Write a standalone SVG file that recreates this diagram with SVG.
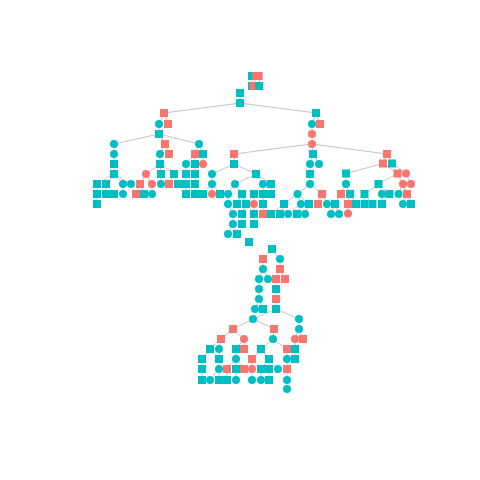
<svg xmlns="http://www.w3.org/2000/svg" xmlns:xlink="http://www.w3.org/1999/xlink" width="480" height="480" viewBox="0 0 480 480">
<style>
.t{fill:#00BFC4}
.s{fill:#F8766D}
#edges line{stroke:#C4C4C4;stroke-width:1}
</style>
<defs>
<rect id="sq" x="-4" y="-4" width="8" height="8"/>
<circle id="ci" r="4"/>
</defs>
<rect width="480" height="480" fill="#FFFFFF"/>
<g id="edges">
<line x1="252" y1="76" x2="252" y2="86"/><line x1="256" y1="76" x2="254" y2="86"/><line x1="259" y1="76" x2="260" y2="86"/>
<line x1="240" y1="93" x2="240" y2="103"/>
<line x1="240" y1="103" x2="164" y2="113"/><line x1="240" y1="103" x2="316" y2="113"/>
<line x1="164" y1="113" x2="159" y2="124"/><line x1="164" y1="113" x2="168" y2="124"/>
<line x1="159" y1="124" x2="159" y2="134"/>
<line x1="159" y1="134" x2="114" y2="144"/><line x1="159" y1="134" x2="165" y2="144"/><line x1="159" y1="134" x2="199" y2="144"/>
<line x1="114" y1="144" x2="114" y2="174"/>
<line x1="114" y1="174" x2="97" y2="184"/><line x1="114" y1="174" x2="106" y2="184"/><line x1="114" y1="174" x2="123" y2="184"/><line x1="114" y1="174" x2="131" y2="184"/>
<line x1="97" y1="184" x2="97" y2="204"/>
<line x1="106" y1="184" x2="106" y2="194"/><line x1="106" y1="184" x2="114" y2="194"/>
<line x1="123" y1="184" x2="123" y2="194"/>
<line x1="165" y1="144" x2="160" y2="154"/><line x1="165" y1="144" x2="169" y2="154"/>
<line x1="160" y1="154" x2="160" y2="164"/>
<line x1="160" y1="164" x2="146" y2="174"/><line x1="160" y1="164" x2="161" y2="174"/><line x1="160" y1="164" x2="174" y2="174"/>
<line x1="146" y1="174" x2="140" y2="184"/><line x1="146" y1="174" x2="152" y2="184"/>
<line x1="140" y1="184" x2="136" y2="194"/><line x1="140" y1="184" x2="144" y2="194"/>
<line x1="152" y1="184" x2="152" y2="194"/>
<line x1="161" y1="174" x2="161" y2="184"/>
<line x1="174" y1="174" x2="169" y2="184"/><line x1="174" y1="174" x2="178" y2="184"/>
<line x1="199" y1="144" x2="195" y2="154"/><line x1="199" y1="144" x2="203" y2="154"/>
<line x1="195" y1="154" x2="186" y2="164"/><line x1="195" y1="154" x2="195" y2="164"/>
<line x1="186" y1="164" x2="186" y2="194"/><line x1="195" y1="164" x2="195" y2="194"/>
<line x1="203" y1="154" x2="203" y2="164"/>
<line x1="316" y1="113" x2="312" y2="124"/><line x1="316" y1="113" x2="320" y2="124"/>
<line x1="312" y1="124" x2="312" y2="144"/>
<line x1="312" y1="144" x2="234" y2="154"/><line x1="312" y1="144" x2="313" y2="154"/><line x1="312" y1="144" x2="387" y2="154"/>
<line x1="234" y1="154" x2="234" y2="164"/>
<line x1="234" y1="164" x2="212" y2="174"/><line x1="234" y1="164" x2="256" y2="174"/>
<line x1="212" y1="174" x2="212" y2="184"/>
<line x1="212" y1="184" x2="203" y2="194"/><line x1="212" y1="184" x2="212" y2="194"/><line x1="212" y1="184" x2="220" y2="194"/>
<line x1="256" y1="174" x2="235" y2="184"/><line x1="256" y1="174" x2="263" y2="184"/><line x1="256" y1="174" x2="271" y2="184"/>
<line x1="235" y1="184" x2="228" y2="194"/><line x1="235" y1="184" x2="242" y2="194"/>
<line x1="228" y1="194" x2="228" y2="204"/><line x1="228" y1="204" x2="233" y2="214"/><line x1="233" y1="214" x2="233" y2="224"/><line x1="233" y1="224" x2="228" y2="234"/><line x1="233" y1="224" x2="237" y2="234"/>
<line x1="242" y1="194" x2="237" y2="204"/><line x1="242" y1="194" x2="246" y2="204"/><line x1="246" y1="204" x2="242" y2="214"/><line x1="242" y1="214" x2="242" y2="224"/>
<line x1="263" y1="184" x2="254" y2="194"/><line x1="263" y1="184" x2="263" y2="194"/>
<line x1="254" y1="194" x2="254" y2="224"/><line x1="263" y1="194" x2="263" y2="214"/>
<line x1="271" y1="184" x2="271" y2="194"/>
<line x1="313" y1="154" x2="310" y2="164"/><line x1="313" y1="154" x2="319" y2="164"/>
<line x1="310" y1="164" x2="310" y2="184"/>
<line x1="310" y1="184" x2="297.5" y2="194"/><line x1="310" y1="184" x2="322" y2="194"/>
<line x1="297.5" y1="194" x2="284" y2="204"/><line x1="297.5" y1="194" x2="301" y2="204"/><line x1="297.5" y1="194" x2="309" y2="204"/>
<line x1="284" y1="204" x2="271" y2="214"/><line x1="284" y1="204" x2="280" y2="214"/>
<line x1="301" y1="204" x2="288" y2="214"/><line x1="301" y1="204" x2="297" y2="214"/>
<line x1="309" y1="204" x2="305" y2="214"/>
<line x1="322" y1="194" x2="318" y2="204"/><line x1="322" y1="194" x2="327" y2="204"/>
<line x1="387" y1="154" x2="383" y2="163.5"/><line x1="387" y1="154" x2="392" y2="163.5"/>
<line x1="383" y1="163.5" x2="346" y2="173.5"/><line x1="383" y1="163.5" x2="397.5" y2="173.5"/>
<line x1="392" y1="163.5" x2="406" y2="173.5"/>
<line x1="346" y1="173.5" x2="346" y2="184"/>
<line x1="346" y1="184" x2="341" y2="194"/><line x1="346" y1="184" x2="350" y2="194"/>
<line x1="341" y1="194" x2="335" y2="204"/><line x1="335" y1="204" x2="331" y2="214"/><line x1="335" y1="204" x2="339" y2="214"/>
<line x1="350" y1="194" x2="348" y2="204"/><line x1="350" y1="194" x2="356" y2="204"/>
<line x1="348" y1="204" x2="348" y2="213.5"/>
<line x1="397.5" y1="173.5" x2="378.5" y2="184"/><line x1="397.5" y1="173.5" x2="403" y2="184"/>
<line x1="406" y1="173.5" x2="411" y2="184"/>
<line x1="378.5" y1="184" x2="364.5" y2="194"/><line x1="378.5" y1="184" x2="382" y2="194"/><line x1="378.5" y1="184" x2="389.5" y2="194"/>
<line x1="364.5" y1="194" x2="364.5" y2="204"/><line x1="364.5" y1="194" x2="372.5" y2="204"/>
<line x1="382" y1="194" x2="382" y2="204"/>
<line x1="403" y1="184" x2="398.5" y2="194"/><line x1="403" y1="184" x2="407" y2="194"/>
<line x1="407" y1="194" x2="403" y2="204"/><line x1="407" y1="194" x2="411" y2="204"/>
<line x1="272" y1="249" x2="263" y2="259"/><line x1="272" y1="249" x2="280" y2="259"/>
<line x1="263" y1="259" x2="263" y2="269"/><line x1="263" y1="269" x2="259" y2="279"/><line x1="263" y1="269" x2="268" y2="279"/>
<line x1="259" y1="279" x2="259" y2="299"/><line x1="259" y1="299" x2="255" y2="309"/><line x1="259" y1="299" x2="263" y2="309"/>
<line x1="280" y1="259" x2="280" y2="269"/><line x1="280" y1="269" x2="276" y2="279"/><line x1="280" y1="269" x2="285" y2="279"/>
<line x1="276" y1="279" x2="276" y2="309"/>
<line x1="276" y1="309" x2="253" y2="319"/><line x1="276" y1="309" x2="299" y2="319"/>
<line x1="253" y1="319" x2="233" y2="329"/><line x1="253" y1="319" x2="274" y2="329"/>
<line x1="233" y1="329" x2="221" y2="339"/><line x1="233" y1="329" x2="244" y2="339"/>
<line x1="221" y1="339" x2="210" y2="349"/><line x1="221" y1="339" x2="219" y2="349"/>
<line x1="210" y1="349" x2="202" y2="359"/><line x1="202" y1="359" x2="202" y2="380"/>
<line x1="219" y1="349" x2="219" y2="369"/><line x1="219" y1="369" x2="210" y2="380"/><line x1="219" y1="369" x2="219" y2="380"/>
<line x1="244" y1="339" x2="236" y2="349"/><line x1="244" y1="339" x2="244" y2="349"/>
<line x1="236" y1="349" x2="236" y2="359"/>
<line x1="236" y1="359" x2="227" y2="369"/><line x1="236" y1="359" x2="236" y2="369"/><line x1="236" y1="359" x2="244" y2="369"/>
<line x1="227" y1="369" x2="227" y2="380"/><line x1="236" y1="369" x2="236" y2="380"/>
<line x1="274" y1="329" x2="273" y2="339"/>
<line x1="273" y1="339" x2="261" y2="349"/><line x1="273" y1="339" x2="287" y2="349"/>
<line x1="261" y1="349" x2="252" y2="359"/><line x1="261" y1="349" x2="269" y2="359"/>
<line x1="252" y1="359" x2="252" y2="380"/>
<line x1="269" y1="359" x2="261" y2="369"/><line x1="269" y1="359" x2="269" y2="369"/><line x1="269" y1="359" x2="278" y2="369"/>
<line x1="261" y1="369" x2="261" y2="380"/><line x1="269" y1="369" x2="269" y2="380"/>
<line x1="287" y1="349" x2="287" y2="389"/>
<line x1="299" y1="319" x2="299" y2="329"/><line x1="299" y1="329" x2="295" y2="339"/><line x1="299" y1="329" x2="303" y2="339"/>
<line x1="295" y1="339" x2="295" y2="359"/>
</g>
<g id="n1"><use href="#sq" class="t" x="252" y="76"/></g>
<g id="n2"><use href="#sq" class="s" x="256" y="76"/></g>
<g id="n3"><use href="#sq" class="s" x="258.7" y="76"/></g>
<g id="n4"><use href="#sq" class="t" x="252" y="86"/></g>
<g id="n5"><use href="#sq" class="s" x="253.7" y="86"/></g>
<g id="n6"><use href="#sq" class="t" x="259.3" y="86"/></g>
<g id="n7"><use href="#sq" class="t" x="240" y="93"/></g>
<g id="n8"><use href="#sq" class="t" x="240" y="103"/></g>
<g id="n9"><use href="#sq" class="s" x="164" y="113"/></g>
<g id="n10"><use href="#sq" class="t" x="316" y="113"/></g>
<g id="n11"><use href="#ci" class="t" x="159" y="124"/></g>
<g id="n12"><use href="#sq" class="s" x="168" y="124"/></g>
<g id="n13"><use href="#sq" class="t" x="159" y="134"/></g>
<g id="n14"><use href="#ci" class="t" x="114" y="144"/></g>
<g id="n15"><use href="#sq" class="s" x="165" y="144"/></g>
<g id="n16"><use href="#ci" class="t" x="199" y="144"/></g>
<g id="n17"><use href="#ci" class="t" x="114" y="154"/></g>
<g id="n18"><use href="#sq" class="t" x="114" y="164"/></g>
<g id="n19"><use href="#sq" class="t" x="114" y="174"/></g>
<g id="n20"><use href="#sq" class="t" x="97" y="184"/></g>
<g id="n21"><use href="#sq" class="t" x="106" y="184"/></g>
<g id="n22"><use href="#ci" class="t" x="123" y="184"/></g>
<g id="n23"><use href="#ci" class="t" x="131" y="184"/></g>
<g id="n24"><use href="#sq" class="t" x="97" y="194"/></g>
<g id="n25"><use href="#sq" class="t" x="97" y="204"/></g>
<g id="n26"><use href="#sq" class="t" x="106" y="194"/></g>
<g id="n27"><use href="#sq" class="t" x="114" y="194"/></g>
<g id="n28"><use href="#ci" class="t" x="123" y="194"/></g>
<g id="n29"><use href="#ci" class="t" x="160" y="154"/></g>
<g id="n30"><use href="#sq" class="s" x="169" y="154"/></g>
<g id="n31"><use href="#sq" class="t" x="160" y="164"/></g>
<g id="n32"><use href="#ci" class="s" x="146" y="174"/></g>
<g id="n33"><use href="#sq" class="t" x="161" y="174"/></g>
<g id="n34"><use href="#sq" class="t" x="174" y="174"/></g>
<g id="n35"><use href="#sq" class="s" x="140" y="184"/></g>
<g id="n36"><use href="#ci" class="s" x="152" y="184"/></g>
<g id="n37"><use href="#sq" class="s" x="136" y="194"/></g>
<g id="n38"><use href="#sq" class="t" x="144" y="194"/></g>
<g id="n39"><use href="#ci" class="t" x="152" y="194"/></g>
<g id="n40"><use href="#ci" class="t" x="161" y="184"/></g>
<g id="n41"><use href="#sq" class="s" x="169" y="184"/></g>
<g id="n42"><use href="#sq" class="t" x="178" y="184"/></g>
<g id="n43"><use href="#sq" class="s" x="195" y="154"/></g>
<g id="n44"><use href="#sq" class="t" x="203" y="154"/></g>
<g id="n45"><use href="#ci" class="t" x="186" y="164"/></g>
<g id="n46"><use href="#sq" class="t" x="195" y="164"/></g>
<g id="n47"><use href="#sq" class="t" x="186" y="174"/></g>
<g id="n48"><use href="#sq" class="t" x="186" y="184"/></g>
<g id="n49"><use href="#sq" class="t" x="186" y="194"/></g>
<g id="n50"><use href="#sq" class="t" x="195" y="174"/></g>
<g id="n51"><use href="#sq" class="t" x="195" y="184"/></g>
<g id="n52"><use href="#sq" class="t" x="195" y="194"/></g>
<g id="n53"><use href="#ci" class="s" x="203" y="164"/></g>
<g id="n54"><use href="#ci" class="t" x="312" y="124"/></g>
<g id="n55"><use href="#sq" class="s" x="320" y="124"/></g>
<g id="n56"><use href="#ci" class="s" x="312" y="134"/></g>
<g id="n57"><use href="#ci" class="s" x="312" y="144"/></g>
<g id="n58"><use href="#sq" class="s" x="234" y="154"/></g>
<g id="n59"><use href="#sq" class="t" x="313" y="154"/></g>
<g id="n60"><use href="#sq" class="s" x="387" y="154"/></g>
<g id="n61"><use href="#sq" class="t" x="234" y="164"/></g>
<g id="n62"><use href="#ci" class="t" x="212" y="174"/></g>
<g id="n63"><use href="#sq" class="t" x="256" y="174"/></g>
<g id="n64"><use href="#ci" class="t" x="212" y="184"/></g>
<g id="n65"><use href="#sq" class="t" x="203" y="194"/></g>
<g id="n66"><use href="#ci" class="s" x="212" y="194"/></g>
<g id="n67"><use href="#sq" class="t" x="220" y="194"/></g>
<g id="n68"><use href="#ci" class="t" x="235" y="184"/></g>
<g id="n69"><use href="#ci" class="t" x="263" y="184"/></g>
<g id="n70"><use href="#sq" class="t" x="271" y="184"/></g>
<g id="n71"><use href="#ci" class="t" x="228" y="194"/></g>
<g id="n72"><use href="#sq" class="t" x="242" y="194"/></g>
<g id="n73"><use href="#ci" class="t" x="228" y="204"/></g>
<g id="n74"><use href="#ci" class="t" x="233" y="214"/></g>
<g id="n75"><use href="#ci" class="t" x="233" y="224"/></g>
<g id="n76"><use href="#ci" class="t" x="228" y="234"/></g>
<g id="n77"><use href="#sq" class="t" x="237" y="234"/></g>
<g id="n78"><use href="#sq" class="t" x="237" y="204"/></g>
<g id="n79"><use href="#sq" class="t" x="246" y="204"/></g>
<g id="n80"><use href="#sq" class="t" x="242" y="214"/></g>
<g id="n81"><use href="#sq" class="t" x="242" y="224"/></g>
<g id="n82"><use href="#sq" class="t" x="254" y="194"/></g>
<g id="n83"><use href="#sq" class="t" x="263" y="194"/></g>
<g id="n84"><use href="#ci" class="s" x="254" y="204"/></g>
<g id="n85"><use href="#sq" class="t" x="254" y="214"/></g>
<g id="n86"><use href="#sq" class="t" x="254" y="224"/></g>
<g id="n87"><use href="#sq" class="t" x="263" y="204"/></g>
<g id="n88"><use href="#sq" class="s" x="263" y="214"/></g>
<g id="n89"><use href="#sq" class="t" x="271" y="194"/></g>
<g id="n90"><use href="#ci" class="t" x="310" y="164"/></g>
<g id="n91"><use href="#ci" class="t" x="319" y="164"/></g>
<g id="n92"><use href="#sq" class="t" x="310" y="174"/></g>
<g id="n93"><use href="#ci" class="t" x="310" y="184"/></g>
<g id="n94"><use href="#ci" class="t" x="297.5" y="194"/></g>
<g id="n95"><use href="#sq" class="s" x="322" y="194"/></g>
<g id="n96"><use href="#sq" class="t" x="284" y="204"/></g>
<g id="n97"><use href="#ci" class="t" x="301" y="204"/></g>
<g id="n98"><use href="#sq" class="t" x="309" y="204"/></g>
<g id="n99"><use href="#sq" class="t" x="271" y="214"/></g>
<g id="n100"><use href="#sq" class="t" x="280" y="214"/></g>
<g id="n101"><use href="#ci" class="t" x="288" y="214"/></g>
<g id="n102"><use href="#sq" class="t" x="297" y="214"/></g>
<g id="n103"><use href="#ci" class="t" x="305" y="214"/></g>
<g id="n104"><use href="#sq" class="s" x="318" y="204"/></g>
<g id="n105"><use href="#ci" class="t" x="327" y="204"/></g>
<g id="n106"><use href="#sq" class="s" x="383" y="163.5"/></g>
<g id="n107"><use href="#sq" class="t" x="392" y="163.5"/></g>
<g id="n108"><use href="#sq" class="t" x="346" y="173.5"/></g>
<g id="n109"><use href="#sq" class="s" x="397.5" y="173.5"/></g>
<g id="n110"><use href="#ci" class="s" x="406" y="173.5"/></g>
<g id="n111"><use href="#ci" class="t" x="346" y="184"/></g>
<g id="n112"><use href="#sq" class="s" x="341" y="194"/></g>
<g id="n113"><use href="#sq" class="t" x="350" y="194"/></g>
<g id="n114"><use href="#sq" class="t" x="335" y="204"/></g>
<g id="n115"><use href="#ci" class="t" x="331" y="214"/></g>
<g id="n116"><use href="#ci" class="t" x="339" y="214"/></g>
<g id="n117"><use href="#sq" class="s" x="348" y="204"/></g>
<g id="n118"><use href="#sq" class="t" x="356" y="204"/></g>
<g id="n119"><use href="#ci" class="s" x="348" y="213.5"/></g>
<g id="n120"><use href="#sq" class="t" x="378.5" y="184"/></g>
<g id="n121"><use href="#ci" class="s" x="403" y="184"/></g>
<g id="n122"><use href="#ci" class="s" x="411" y="184"/></g>
<g id="n123"><use href="#sq" class="t" x="364.5" y="194"/></g>
<g id="n124"><use href="#ci" class="t" x="382" y="194"/></g>
<g id="n125"><use href="#sq" class="t" x="389.5" y="194"/></g>
<g id="n126"><use href="#sq" class="t" x="364.5" y="204"/></g>
<g id="n127"><use href="#sq" class="t" x="372.5" y="204"/></g>
<g id="n128"><use href="#sq" class="t" x="382" y="204"/></g>
<g id="n129"><use href="#ci" class="t" x="398.5" y="194"/></g>
<g id="n130"><use href="#sq" class="s" x="407" y="194"/></g>
<g id="n131"><use href="#ci" class="t" x="403" y="204"/></g>
<g id="n132"><use href="#sq" class="t" x="411" y="204"/></g>
<g id="n133"><use href="#sq" class="t" x="249" y="242"/></g>
<g id="b1"><use href="#sq" class="t" x="272" y="249"/></g>
<g id="b2"><use href="#sq" class="s" x="263" y="259"/></g>
<g id="b3"><use href="#ci" class="t" x="280" y="259"/></g>
<g id="b4"><use href="#ci" class="t" x="263" y="269"/></g>
<g id="b5"><use href="#ci" class="t" x="259" y="279"/></g>
<g id="b6"><use href="#ci" class="t" x="268" y="279"/></g>
<g id="b7"><use href="#ci" class="t" x="259" y="289"/></g>
<g id="b8"><use href="#ci" class="t" x="259" y="299"/></g>
<g id="b9"><use href="#ci" class="t" x="255" y="309"/></g>
<g id="b10"><use href="#sq" class="t" x="263" y="309"/></g>
<g id="b11"><use href="#sq" class="s" x="280" y="269"/></g>
<g id="b12"><use href="#sq" class="s" x="276" y="279"/></g>
<g id="b13"><use href="#sq" class="s" x="285" y="279"/></g>
<g id="b14"><use href="#sq" class="t" x="276" y="289"/></g>
<g id="b15"><use href="#sq" class="s" x="276" y="299"/></g>
<g id="b16"><use href="#sq" class="t" x="276" y="309"/></g>
<g id="b17"><use href="#ci" class="t" x="253" y="319"/></g>
<g id="b18"><use href="#ci" class="t" x="299" y="319"/></g>
<g id="b19"><use href="#sq" class="s" x="233" y="329"/></g>
<g id="b20"><use href="#sq" class="s" x="274" y="329"/></g>
<g id="b21"><use href="#sq" class="s" x="221" y="339"/></g>
<g id="b22"><use href="#ci" class="s" x="244" y="339"/></g>
<g id="b23"><use href="#sq" class="t" x="210" y="349"/></g>
<g id="b24"><use href="#ci" class="t" x="219" y="349"/></g>
<g id="b25"><use href="#sq" class="t" x="202" y="359"/></g>
<g id="b26"><use href="#sq" class="t" x="202" y="369"/></g>
<g id="b27"><use href="#sq" class="t" x="202" y="380"/></g>
<g id="b28"><use href="#sq" class="t" x="219" y="359"/></g>
<g id="b29"><use href="#ci" class="t" x="219" y="369"/></g>
<g id="b30"><use href="#ci" class="t" x="210" y="380"/></g>
<g id="b31"><use href="#sq" class="t" x="219" y="380"/></g>
<g id="b32"><use href="#sq" class="t" x="236" y="349"/></g>
<g id="b33"><use href="#sq" class="s" x="244" y="349"/></g>
<g id="b34"><use href="#ci" class="t" x="236" y="359"/></g>
<g id="b35"><use href="#sq" class="s" x="227" y="369"/></g>
<g id="b36"><use href="#sq" class="t" x="236" y="369"/></g>
<g id="b37"><use href="#sq" class="s" x="244" y="369"/></g>
<g id="b38"><use href="#sq" class="t" x="227" y="380"/></g>
<g id="b39"><use href="#ci" class="t" x="236" y="380"/></g>
<g id="b40"><use href="#ci" class="t" x="273" y="339"/></g>
<g id="b41"><use href="#sq" class="t" x="261" y="349"/></g>
<g id="b42"><use href="#sq" class="s" x="287" y="349"/></g>
<g id="b43"><use href="#sq" class="s" x="252" y="359"/></g>
<g id="b44"><use href="#sq" class="t" x="269" y="359"/></g>
<g id="b45"><use href="#ci" class="s" x="252" y="369"/></g>
<g id="b46"><use href="#ci" class="t" x="252" y="380"/></g>
<g id="b47"><use href="#sq" class="t" x="261" y="369"/></g>
<g id="b48"><use href="#sq" class="t" x="269" y="369"/></g>
<g id="b49"><use href="#ci" class="t" x="278" y="369"/></g>
<g id="b50"><use href="#ci" class="t" x="261" y="380"/></g>
<g id="b51"><use href="#sq" class="t" x="269" y="380"/></g>
<g id="b52"><use href="#ci" class="t" x="287" y="359"/></g>
<g id="b53"><use href="#sq" class="s" x="287" y="369"/></g>
<g id="b54"><use href="#ci" class="t" x="287" y="380"/></g>
<g id="b55"><use href="#ci" class="t" x="287" y="389"/></g>
<g id="b56"><use href="#ci" class="t" x="299" y="329"/></g>
<g id="b57"><use href="#ci" class="s" x="295" y="339"/></g>
<g id="b58"><use href="#sq" class="s" x="303" y="339"/></g>
<g id="b59"><use href="#sq" class="t" x="295" y="349"/></g>
<g id="b60"><use href="#sq" class="t" x="295" y="359"/></g>
</svg>
